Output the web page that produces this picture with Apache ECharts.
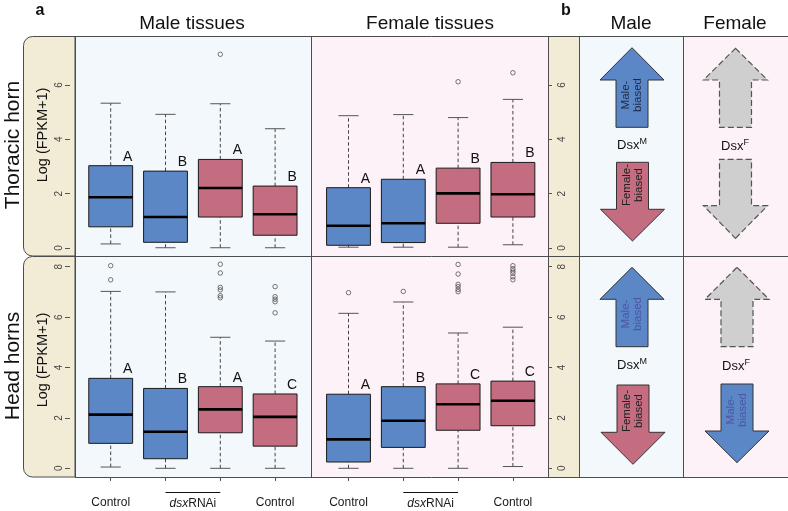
<!DOCTYPE html>
<html>
<head>
<meta charset="utf-8">
<script src="https://cdn.jsdelivr.net/npm/echarts@6/dist/echarts.min.js"></script>
<style>html,body{margin:0;padding:0;background:#fff}#c{width:788px;height:511px}</style>
</head>
<body>
<div id="c"></div>
<script>
// ---------- data ----------
const categories = ['Control', 'dsxRNAi', 'dsxRNAi', 'Control'];
// [lower whisker, Q1, median, Q3, upper whisker]
const thoracicMale = [[0.15,0.78,1.87,3.03,5.33],[0.01,0.21,1.14,2.83,4.92],[0.01,1.14,2.21,3.26,5.31],[0.01,0.47,1.24,2.28,4.39]];
const thoracicFemale = [[0.03,0.10,0.82,2.22,4.87],[0.03,0.20,0.91,2.53,4.91],[0.03,0.91,2.01,2.94,4.80],[0.12,1.14,1.98,3.15,5.47]];
const headMale = [[0.05,0.99,2.13,3.57,7.02],[0.00,0.38,1.45,3.17,7.00],[0.00,1.41,2.34,3.24,5.20],[0.00,0.88,2.04,2.95,5.05]];
const headFemale = [[0.00,0.25,1.15,2.94,6.15],[0.00,0.83,1.89,3.24,6.60],[0.00,1.51,2.54,3.35,5.37],[0.07,1.69,2.68,3.46,5.60]];
// outliers [category index, value]
const thoracicMaleOut = [[2,7.13]];
const thoracicFemaleOut = [[2,6.12],[3,6.45]];
const headMaleOut = [[0,8.04],[0,7.48],[2,8.10],[2,7.75],[2,7.18],[2,7.08],[2,6.85],[2,6.77],[3,7.21],[3,6.81],[3,6.71],[3,6.61],[3,6.17]];
const headFemaleOut = [[0,6.97],[1,7.02],[2,8.09],[2,7.71],[2,7.30],[2,7.21],[2,7.10],[2,7.01],[3,8.04],[3,7.92],[3,7.83],[3,7.74],[3,7.60],[3,7.48]];
// significance letters
const thoracicMaleLetters = ['A','B','A','B'];
const thoracicFemaleLetters = ['A','A','B','B'];
const headMaleLetters = ['A','B','A','C'];
const headFemaleLetters = ['A','B','C','C'];
// y tick labels
const thoracicTicks = [0,2,4,6];
const headTicks = [0,2,4,6,8];

// ---------- styles ----------
const FONT = 'Liberation Sans, Arial, Helvetica, sans-serif';
const BLUE = '#5b87c6';
const RED = '#c46d80';
const BEIGE = '#f2ecd6';
const LBLUE = '#f3f8fc';
const PINK = '#fcf2f7';
const EDGE = '#4d4d4d';

const chart = echarts.init(document.getElementById('c'), null, {renderer: 'canvas'});

const TOP = {top: 36, height: 220, min: -0.294, max: 7.803};
const BOT = {top: 256, height: 221, min: -0.345, max: 8.425};
const MALE_L = 83.3, FEMALE_L = 321.1, GW = 219.2;

const grids = [
  {left: MALE_L, top: TOP.top, width: GW, height: TOP.height},
  {left: FEMALE_L, top: TOP.top, width: GW, height: TOP.height},
  {left: MALE_L, top: BOT.top, width: GW, height: BOT.height},
  {left: FEMALE_L, top: BOT.top, width: GW, height: BOT.height},
  {left: 548, top: TOP.top, width: 31, height: TOP.height},
  {left: 548, top: BOT.top, width: 31, height: BOT.height},
  {left: 40, top: TOP.top, width: 30, height: TOP.height},
  {left: 40, top: BOT.top, width: 30, height: BOT.height}
].map(g => Object.assign({outerBoundsMode: 'none', containLabel: false}, g));

function catAxis(gi, showIt) {
  return {
    type: 'category', gridIndex: gi, data: categories, show: showIt,
    axisLine: {show: false, onZero: false},
    axisTick: {show: true, alignWithLabel: true, length: 4, lineStyle: {color: '#555'}},
    axisLabel: {interval: 0, margin: 20, fontSize: 12, fontFamily: FONT, color: '#1a1a1a',
      formatter: (v, i) => (i === 1 || i === 2) ? '' : v},
    splitLine: {show: false}
  };
}
function hiddenY(gi, r) {
  return {type: 'value', gridIndex: gi, min: r.min, max: r.max, show: false, splitLine: {show: false}};
}
function tickY(gi, r, ticks, pos, margin) {
  return {
    type: 'value', gridIndex: gi, min: r.min, max: r.max, position: pos,
    axisLine: {show: false, onZero: false},
    axisTick: {show: true, inside: true, length: pos === 'left' ? 4 : 5, customValues: ticks, lineStyle: {color: '#555'}},
    axisLabel: {inside: true, rotate: 90, margin: margin, fontSize: 10, fontFamily: FONT, color: '#444', customValues: ticks},
    splitLine: {show: false}
  };
}
function plainX(gi) {
  return {type: 'value', gridIndex: gi, show: false, min: 0, max: 1, axisLine: {onZero: false}};
}

const xAxes = [
  catAxis(0, false), catAxis(1, false), catAxis(2, true), catAxis(3, true),
  plainX(4), plainX(5), plainX(6), plainX(7)
];
const yAxes = [
  hiddenY(0, TOP), hiddenY(1, TOP), hiddenY(2, BOT), hiddenY(3, BOT),
  tickY(4, TOP, thoracicTicks, 'left', 9), tickY(5, BOT, headTicks, 'left', 9),
  tickY(6, TOP, thoracicTicks, 'right', 6), tickY(7, BOT, headTicks, 'right', 6)
];

function makeRender(stats, letters) {
  return function (params, api) {
    const i = params.dataIndex;
    const s = stats[i];
    const x = api.coord([i, 0])[0];
    const bw = api.size([1, 0])[0] * 0.8;
    const cw = bw * 0.46;
    const y = v => api.coord([i, v])[1];
    const fill = i < 2 ? BLUE : RED;
    const dash = {stroke: '#444', lineWidth: 1, lineDash: [3.5, 2.5]};
    const cap = {stroke: '#555', lineWidth: 1};
    return {
      type: 'group',
      children: [
        {type: 'line', shape: {x1: x, y1: y(s[0]), x2: x, y2: y(s[1])}, style: dash},
        {type: 'line', shape: {x1: x, y1: y(s[3]), x2: x, y2: y(s[4])}, style: dash},
        {type: 'line', shape: {x1: x - cw / 2, y1: y(s[0]), x2: x + cw / 2, y2: y(s[0])}, style: cap},
        {type: 'line', shape: {x1: x - cw / 2, y1: y(s[4]), x2: x + cw / 2, y2: y(s[4])}, style: cap},
        {type: 'rect', shape: {x: x - bw / 2, y: y(s[3]), width: bw, height: y(s[1]) - y(s[3])},
          style: {fill: fill, stroke: '#1a1a1a', lineWidth: 1}},
        {type: 'line', shape: {x1: x - bw / 2, y1: y(s[2]), x2: x + bw / 2, y2: y(s[2])},
          style: {stroke: '#000', lineWidth: 2.6}},
        {type: 'text', x: x + 17, y: y(s[3]) - 9,
          style: {text: letters[i], fontSize: 14, fontFamily: FONT, fill: '#111', align: 'center', verticalAlign: 'middle'}}
      ]
    };
  };
}

const panels = [
  {stats: thoracicMale, out: thoracicMaleOut, letters: thoracicMaleLetters},
  {stats: thoracicFemale, out: thoracicFemaleOut, letters: thoracicFemaleLetters},
  {stats: headMale, out: headMaleOut, letters: headMaleLetters},
  {stats: headFemale, out: headFemaleOut, letters: headFemaleLetters}
];
const series = [];
panels.forEach((p, gi) => {
  series.push({
    type: 'custom', xAxisIndex: gi, yAxisIndex: gi, z: 5,
    renderItem: makeRender(p.stats, p.letters),
    data: p.stats.map((s, i) => [i].concat(s)),
    encode: {x: 0, y: [1, 2, 3, 4, 5]},
    silent: true
  });
  series.push({
    type: 'scatter', xAxisIndex: gi, yAxisIndex: gi, z: 6,
    symbol: 'circle', symbolSize: 4.5,
    itemStyle: {color: 'rgba(0,0,0,0)', borderColor: '#444', borderWidth: 0.9},
    data: p.out, silent: true
  });
});

// ---------- decorative graphics ----------
const G = [];
function rect(id, x, y, w, h, fill) {
  G.push({id: id, type: 'rect', z: -10, shape: {x: x, y: y, width: w, height: h}, style: {fill: fill}});
}
rect('bgM', 75, 36, 236, 441, LBLUE);
rect('bgF', 311, 36, 237, 441, PINK);
rect('bgS', 548, 36, 31, 441, BEIGE);
rect('bgMb', 579, 36, 104, 441, LBLUE);
rect('bgFb', 683, 36, 105, 441, PINK);
G.push({id: 'stripT', type: 'rect', z: -9, shape: {x: 23.5, y: 36.5, width: 51.5, height: 219.5, r: [9, 0, 0, 9]}, style: {fill: BEIGE, stroke: EDGE, lineWidth: 1}});
G.push({id: 'stripB', type: 'rect', z: -9, shape: {x: 23.5, y: 256.5, width: 51.5, height: 220.5, r: [9, 0, 0, 9]}, style: {fill: BEIGE, stroke: EDGE, lineWidth: 1}});
function line(id, x1, y1, x2, y2) {
  G.push({id: id, type: 'line', z: 20, shape: {x1: x1, y1: y1, x2: x2, y2: y2}, style: {stroke: EDGE, lineWidth: 1}});
}
[36.5, 256.5, 477.5].forEach((yy, k) => line('h' + k, 75, yy, 788, yy));
[75, 311, 548, 579, 683].forEach((xx, k) => line('v' + k, xx + 0.5, 36, xx + 0.5, 477));

function txt(id, x, y, text, size, opts) {
  G.push(Object.assign({id: id, type: 'text', z: 30, x: x, y: y,
    style: Object.assign({text: text, fontSize: size, fontFamily: FONT, fill: '#111', align: 'center', verticalAlign: 'middle'}, (opts && opts.style) || {})},
    (opts && opts.el) || {}));
}
txt('ta', 40, 11, 'a', 16, {style: {fontWeight: 'bold'}});
txt('tb', 566, 11, 'b', 16, {style: {fontWeight: 'bold'}});
txt('tMale', 192, 24, 'Male tissues', 19);
txt('tFemale', 430, 24, 'Female tissues', 19);
txt('tM', 631, 24, 'Male', 19);
txt('tF', 735, 24, 'Female', 19);
txt('rowT', 13, 145, 'Thoracic horn', 21, {el: {rotation: Math.PI / 2}});
txt('rowH', 13, 366, 'Head horns', 21, {el: {rotation: Math.PI / 2}});
txt('ylT', 43, 135, 'Log (FPKM+1)', 14.5, {el: {rotation: Math.PI / 2}});
txt('ylH', 43, 360, 'Log (FPKM+1)', 14.5, {el: {rotation: Math.PI / 2}});

function arrow(id, cx, tip, base, tail, hh, sh, style) {
  const pts = [[cx, tip], [cx + hh, base], [cx + sh, base], [cx + sh, tail], [cx - sh, tail], [cx - sh, base], [cx - hh, base]];
  G.push({id: id, type: 'polygon', z: 8, shape: {points: pts}, style: style});
}
const solid = c => ({fill: c, stroke: '#333', lineWidth: 1});
const ghost = {fill: '#cfcfcf', stroke: '#555', lineWidth: 1.2, lineDash: [6, 3]};
arrow('a1', 632, 47.7, 80, 127.3, 32, 16, solid(BLUE));
arrow('a2', 632.5, 241, 209.3, 162.3, 32, 16, solid(RED));
arrow('a3', 735.5, 48.3, 80, 127.3, 32, 16, ghost);
arrow('a4', 735.5, 238.3, 205.7, 159.3, 32, 16, ghost);
arrow('a5', 632, 267.3, 299.3, 346.7, 32, 16, solid(BLUE));
arrow('a6', 633, 464.3, 432.3, 385, 32, 16, solid(RED));
arrow('a7', 737, 267.3, 299.3, 346.7, 32, 16, ghost);
arrow('a8', 737, 462.7, 431, 384, 32, 16, solid(BLUE));

function arrowText(id, x, y, t, color) {
  txt(id, x, y, t, 11.5, {el: {rotation: Math.PI / 2}, style: {fill: color, lineHeight: 12}});
}
arrowText('at1', 632, 95, 'Male-\nbiased', '#1f2a44');
arrowText('at2', 633, 185, 'Female-\nbiased', '#222');
arrowText('at3', 632, 314, 'Male-\nbiased', '#4b55a8');
arrowText('at4', 633, 411, 'Female-\nbiased', '#222');
arrowText('at5', 737, 410, 'Male-\nbiased', '#4b55a8');

function dsx(id, x, y, sup) {
  G.push({id: id, type: 'text', z: 30, x: x, y: y, style: {
    text: 'Dsx{s|' + sup + '}', fontSize: 13, fontFamily: FONT, fill: '#111', align: 'center', verticalAlign: 'middle',
    rich: {s: {fontSize: 9, fontFamily: FONT, fill: '#111', verticalAlign: 'top', padding: [0, 0, 7, 0]}}
  }});
}
dsx('d1', 632, 145, 'M');
dsx('d2', 735, 146, 'F');
dsx('d3', 632, 365, 'M');
dsx('d4', 736, 366, 'F');

chart.setOption({
  animation: false,
  grid: grids,
  xAxis: xAxes,
  yAxis: yAxes,
  series: series,
  graphic: {elements: G}
});

// dsxRNAi group label with overline, placed through the axis scale
const extra = [];
[2, 3].forEach(gi => {
  const p1 = chart.convertToPixel({xAxisIndex: gi, yAxisIndex: gi}, [1, 0]);
  const p2 = chart.convertToPixel({xAxisIndex: gi, yAxisIndex: gi}, [2, 0]);
  const base = grids[gi].top + grids[gi].height;
  extra.push({id: 'ol' + gi, type: 'line', z: 30, shape: {x1: p1[0], y1: base + 15.5, x2: p2[0], y2: base + 15.5}, style: {stroke: '#111', lineWidth: 1.2}});
  extra.push({id: 'dl' + gi, type: 'text', z: 30, x: (p1[0] + p2[0]) / 2, y: base + 27, style: {
    text: '{i|dsx}RNAi', fontSize: 12, fontFamily: FONT, fill: '#1a1a1a', align: 'center', verticalAlign: 'middle',
    rich: {i: {fontStyle: 'italic', fontSize: 12, fontFamily: FONT, fill: '#1a1a1a'}}
  }});
});
chart.setOption({graphic: {elements: extra}});
</script>
</body>
</html>
